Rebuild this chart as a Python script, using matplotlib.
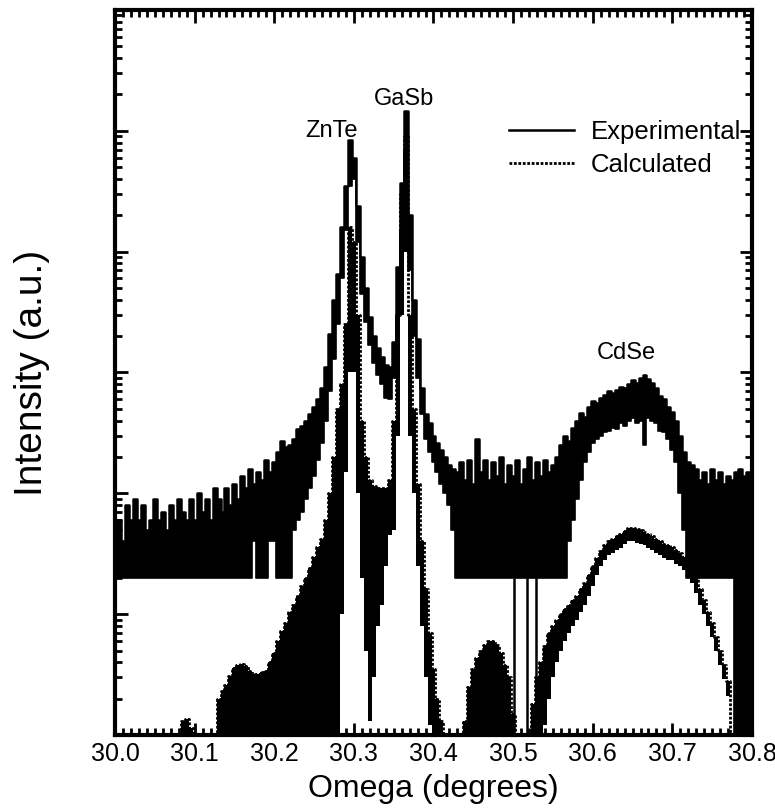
import numpy as np
import matplotlib
matplotlib.use('Agg')
import matplotlib.pyplot as plt
from matplotlib.ticker import MultipleLocator, NullFormatter

plt.rcParams['font.family'] = ['Liberation Sans', 'DejaVu Sans']

# scan grid, 0.005 deg steps
omega = np.linspace(30.0, 30.8, 161)

# experimental rocking curve: upper / lower edge of the noisy trace
exp_hi = [50, 60, 40, 80, 60, 90, 60, 80, 50, 60,
          90, 60, 70, 50, 80, 60, 90, 70, 60, 90,
          60, 100, 70, 90, 60, 110, 90, 70, 110, 80,
          120, 90, 140, 110, 160, 120, 150, 130, 190, 150,
          180, 220, 270, 240, 250, 280, 340, 360, 400, 450,
          520, 600, 750, 1100, 2100, 4000, 6500, 16000, 35000, 84000,
          60000, 24000, 9000, 5000, 2900, 2000, 1600, 1350, 1150, 1100,
          1800, 7500, 37000, 145000, 20000, 4000, 1900, 750, 450, 380,
          300, 260, 230, 200, 170, 160, 150, 180, 130, 190,
          120, 280, 150, 190, 130, 180, 140, 200, 120, 170,
          140, 190, 120, 160, 200, 130, 180, 140, 190, 150,
          170, 200, 250, 300, 270, 350, 400, 460, 430, 520,
          580, 560, 620, 650, 700, 680, 720, 760, 740, 800,
          870, 820, 900, 950, 880, 820, 750, 640, 600, 520,
          470, 400, 300, 220, 180, 170, 160, 130, 150, 120,
          160, 130, 150, 120, 140, 130, 150, 160, 140, 150, 150]
exp_lo = [20, 20, 20, 20, 20, 20, 20, 20, 20, 20,
          20, 20, 20, 20, 20, 20, 20, 20, 20, 20,
          20, 20, 20, 20, 20, 20, 20, 20, 20, 20,
          20, 20, 20, 20, 20, 40, 20, 20, 20, 40,
          40, 20, 20, 20, 20, 50, 60, 70, 90, 110,
          140, 190, 260, 400, 700, 1300, 2500, 6000, 15000, 35000,
          40000, 12000, 4500, 2600, 1700, 1200, 950, 800, 620, 600,
          900, 3000, 15000, 70000, 7000, 2000, 900, 450, 280, 220,
          180, 150, 120, 100, 80, 50, 20, 20, 20, 20,
          20, 20, 20, 20, 20, 20, 20, 20, 20, 20,
          20, 20, 20, 20, 20, 20, 20, 20, 20, 20,
          20, 20, 20, 20, 40, 60, 90, 130, 180, 220,
          260, 280, 300, 320, 330, 350, 340, 380, 360, 400,
          420, 380, 400, 250, 420, 400, 380, 330, 320, 280,
          230, 180, 100, 50, 20, 20, 20, 20, 20, 20,
          20, 20, 20, 20, 20, 20, 0.3, 0.3, 0.3, 0.3, 0.3]
# points with zero counts
exp_zero = [30.501, 30.517, 30.529]

# calculated curve: envelope and lower edge of the fringes
calc_hi = [0.5, 0.5, 0.5, 0.5, 0.5, 0.5, 0.5, 0.5, 0.5, 0.5,
           0.5, 0.5, 0.5, 0.5, 0.5, 0.5, 0.9, 1.3, 1.35, 1.15,
           0.8, 0.5, 0.5, 0.5, 0.5, 0.5, 2.0, 2.3, 2.6, 3.1,
           3.6, 3.8, 3.9, 3.7, 3.4, 3.2, 3.2, 3.3, 3.4, 4.0,
           4.8, 6.0, 7.2, 8.5, 10.5, 12, 14, 17, 20, 24,
           30, 36, 42, 60, 100, 200, 500, 800, 2500, 16000,
           12000, 3000, 400, 200, 130, 115, 110, 110, 110, 130,
           400, 3000, 30000, 90000, 3000, 500, 120, 40, 16, 7,
           3.5, 2, 1.3, 0.7, 0.5, 0.5, 0.5, 0.5, 1.3, 2.5,
           3.5, 4.3, 5.0, 5.6, 6.0, 6.0, 5.6, 4.8, 3.8, 3.0,
           1.5, 0.8, 0.5, 0.5, 0.5, 1.8, 3.0, 4.0, 5.5, 7,
           8, 9, 10, 11, 12, 13, 14, 16, 18, 21,
           25, 29, 33, 37, 40, 42, 44, 46, 49, 52,
           52, 51, 50, 48, 46, 44, 42, 40, 38, 37,
           36, 34, 32, 30, 27, 24, 20, 16, 13, 10.5,
           8.5, 6.5, 5, 3.8, 2.8, 0.5, 0.5, 0.5, 0.5, 0.5, 0.5]
calc_lo = [0.5] * 57 + [
           10, 150, 1000,
           1000, 100, 20, 5, 1.3, 3, 8, 12, 25, 45,
           50, 300, 3000, 10000, 300, 100, 25, 8, 3, 1.2] + [0.5] * 28 + [
           1.2, 2,
           3, 4, 5, 6, 7, 8, 9, 10.5, 12, 14,
           17, 21, 25, 28, 31, 32, 34, 35, 38, 40,
           40, 39, 38, 37, 35, 34, 32, 31, 29, 28,
           28, 26, 25, 23, 21, 18, 15, 12, 10, 8,
           6.5, 5, 3.8, 2.9, 2.1, 0.5, 0.5, 0.5, 0.5, 0.5, 0.5]

peak_names = ['ZnTe', 'GaSb', 'CdSe']
peak_x = [30.272, 30.363, 30.642]
peak_y = [1.0e5, 1.85e5, 1.45e3]

fig = plt.figure(figsize=(7.75, 8.1), dpi=100)
ax = fig.add_axes([0.1484, 0.0926, 0.8219, 0.8951])

ax.fill_between(omega, calc_lo, calc_hi, step='mid', color='black', lw=0)
ax.plot(omega, calc_hi, drawstyle='steps-mid', color='black', lw=2,
        ls=(0, (1, 0.6)), label='Calculated')
ax.fill_between(omega, exp_lo, exp_hi, step='mid', color='black', lw=0)
ax.plot(omega, exp_lo, drawstyle='steps-mid', color='black', lw=1.2)
ax.plot(omega, exp_hi, drawstyle='steps-mid', color='black', lw=1.8,
        label='Experimental')
ax.vlines(exp_zero, 0.3, 20, color='black', lw=1.8)

for name, px, py in zip(peak_names, peak_x, peak_y):
    ax.text(px, py, name, ha='center', va='center', fontsize=17)

ax.set_yscale('log')
ax.set_ylim(1, 1e6)
ax.set_xlim(30.0, 30.8)
ax.set_xticks(np.round(np.arange(30.0, 30.81, 0.1), 1))
ax.set_xticklabels(['30.0', '30.1', '30.2', '30.3', '30.4', '30.5',
                    '30.6', '30.7', '30.8'], fontsize=18)
ax.xaxis.set_minor_locator(MultipleLocator(0.01))
ax.yaxis.set_major_formatter(NullFormatter())
ax.yaxis.set_minor_formatter(NullFormatter())
ax.tick_params(which='both', direction='in', top=True, right=True,
               width=2, color='black')
ax.tick_params(which='major', length=9, pad=5)
ax.tick_params(which='minor', length=5)
for s in ax.spines.values():
    s.set_linewidth(3)

ax.set_xlabel('Omega (degrees)', fontsize=23, labelpad=6)
ax.set_ylabel('Intensity (a.u.)', fontsize=28, labelpad=42)

h, l = ax.get_legend_handles_labels()
ax.legend(h[::-1], l[::-1], loc='upper left', bbox_to_anchor=(0.603, 0.863),
          frameon=False, fontsize=18.5, handlelength=2.5, handletextpad=0.66,
          labelspacing=0.35, borderaxespad=0)

plt.savefig('out.png', dpi=100)
